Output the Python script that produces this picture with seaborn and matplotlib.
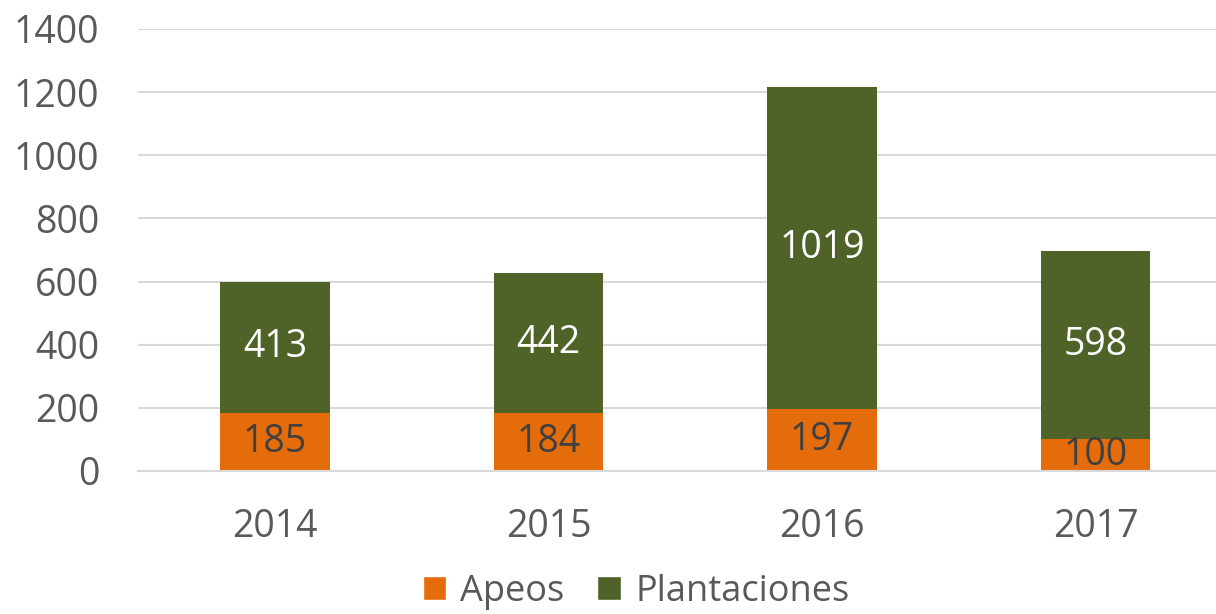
import matplotlib
matplotlib.use("Agg")
import matplotlib.pyplot as plt
from matplotlib.patches import Patch
import pandas as pd
import seaborn as sns

years = ["2014", "2015", "2016", "2017"]
apeos = [185, 184, 197, 100]
plantaciones = [413, 442, 1019, 598]

ORANGE = "#E46C0A"
GREEN = "#4F6228"
TEXT = "#595959"
GRID = "#D9D9D9"
FS = 27

sns.set_theme(style="white")
plt.rcParams["font.family"] = ["Open Sans", "DejaVu Sans"]

df = pd.DataFrame({"year": years, "apeos": apeos, "plantaciones": plantaciones})
df["total"] = df["apeos"] + df["plantaciones"]

fig = plt.figure(figsize=(12.16, 6.14), dpi=100)
ax = fig.add_axes([0.1135, 0.2329, 0.8865, 0.7199])

width = 0.4
sns.barplot(ax=ax, data=df, x="year", y="total", color=GREEN, width=width,
            saturation=1, errorbar=None, linewidth=0)
sns.barplot(ax=ax, data=df, x="year", y="apeos", color=ORANGE, width=width,
            saturation=1, errorbar=None, linewidth=0)

for i, row in df.iterrows():
    ax.text(i, row["apeos"] / 2, str(row["apeos"]), ha="center", va="center",
            fontsize=FS, color="#404040")
    ax.text(i, row["apeos"] + row["plantaciones"] / 2, str(row["plantaciones"]),
            ha="center", va="center", fontsize=FS, color="white")

ax.set_ylim(0, 1400)
ax.set_yticks(range(0, 1401, 200))
ax.set_xlim(-0.5, 3.44)
ax.yaxis.grid(True, color=GRID, linewidth=1.5)
ax.set_axisbelow(True)
for s in ["top", "right", "left"]:
    ax.spines[s].set_visible(False)
ax.spines["bottom"].set_color(GRID)
ax.spines["bottom"].set_linewidth(1.5)
ax.tick_params(axis="both", length=0, labelsize=FS, colors=TEXT)
ax.tick_params(axis="x", pad=27)
ax.tick_params(axis="y", pad=28)
ax.set_xlabel("")
ax.set_ylabel("")

handles = [Patch(facecolor=ORANGE, label="Apeos"),
           Patch(facecolor=GREEN, label="Plantaciones")]
fig.legend(handles=handles, loc="center", bbox_to_anchor=(0.523, 0.036),
           ncol=2, frameon=False, fontsize=26, labelcolor=TEXT,
           handlelength=0.65, handleheight=0.65, handletextpad=0.4,
           columnspacing=0.9, borderaxespad=0)

fig.savefig("out.png", dpi=100)
